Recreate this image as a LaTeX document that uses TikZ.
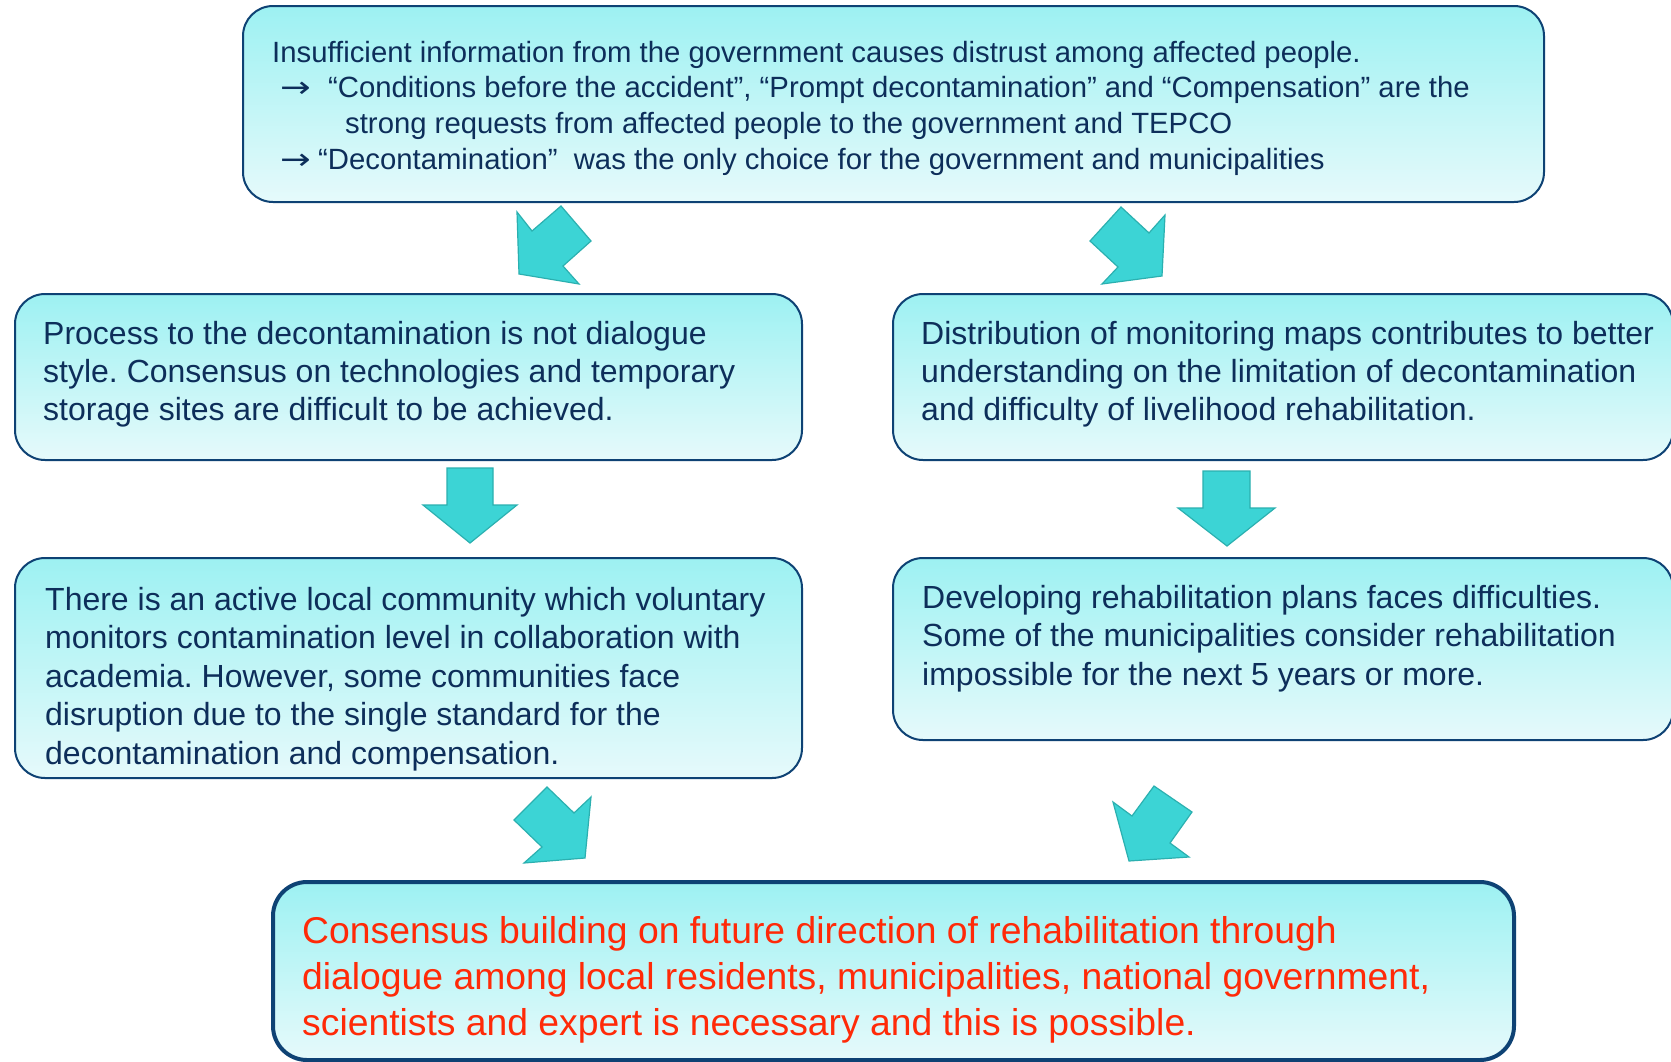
\documentclass[tikz,border=0pt]{standalone}
\usepackage{fontspec}
\usepackage{graphicx}
\setmainfont{Liberation Sans}
\newfontfamily\arrowfont{DejaVu Sans}
\frenchspacing
\definecolor{boxedge}{HTML}{0E4274}
\definecolor{boxtop}{HTML}{9DF1F2}
\definecolor{boxbot}{HTML}{E6FAFB}
\definecolor{txt}{HTML}{0D2E5A}
\definecolor{redtxt}{HTML}{FF2A08}
\definecolor{arrfill}{HTML}{3CD4D5}
\definecolor{arredge}{HTML}{2BB0B0}
\newcommand{\myarrow}{{\arrowfont\scalebox{1.25}[1]{→}}}
\tikzset{
  box/.style={draw=boxedge, line width=2pt, rounded corners=30pt, top color=boxtop, bottom color=boxbot, inner sep=0pt},
  bigbox/.style={box, line width=4pt, rounded corners=34pt},
  txtnode/.style={anchor=base west, align=left, inner sep=0pt, text=txt},
  toptext/.style={txtnode, font=\fontsize{29.3}{35.5}\selectfont},
  midtext/.style={txtnode, font=\fontsize{32}{38}\selectfont},
  blockarrow/.style={fill=arrfill, draw=arredge, line width=1.2pt, line join=miter}
}
\begin{document}
\begin{tikzpicture}[x=1pt,y=-1pt]
\useasboundingbox (0,0) rectangle (1671,1061);
\fill[white] (0,0) rectangle (1671,1061);
% boxes
\node[box, minimum width=1301pt, minimum height=196pt] (top) at (893.5,104) {};
\node[box, minimum width=787pt, minimum height=166pt] (ml) at (408.5,377) {};
\node[box, minimum width=780pt, minimum height=166pt] (mr) at (1283,377) {};
\node[box, minimum width=787pt, minimum height=220pt] (rl) at (408.5,668) {};
\node[box, minimum width=780pt, minimum height=182pt] (rr) at (1283,649) {};
\node[bigbox, minimum width=1241pt, minimum height=178pt] (bot) at (893.5,971) {};
% texts (multi-line nodes are anchored at the baseline of their last line)
\node[toptext] (t1) at (272,62) {Insufficient information from the government causes distrust among affected people.};
\node[toptext] (t2a) at (280,97) {\myarrow};
\node[toptext] (t2) at (328,97) {“Conditions before the accident”, “Prompt decontamination” and “Compensation” are the};
\node[toptext] (t3) at (345,133) {strong requests from affected people to the government and TEPCO};
\node[toptext] (t4a) at (280,169) {\myarrow};
\node[toptext] (t4) at (318,169) {“Decontamination”\ \ was the only choice for the government and municipalities};
\node[midtext] (tml) at (43,420) {Process to the decontamination is not dialogue\\style. Consensus on technologies and temporary\\storage sites are difficult to be achieved.};
\node[midtext] (tmr) at (921,420) {Distribution of monitoring maps contributes to better\\understanding on the limitation of decontamination\\and difficulty of livelihood rehabilitation.};
\node[midtext, font=\fontsize{32}{38.5}\selectfont] (trl) at (45,764) {There is an active local community which voluntary\\monitors contamination level in collaboration with\\academia. However, some communities face\\disruption due to the single standard for the\\decontamination and compensation.};
\node[midtext, font=\fontsize{32}{38.5}\selectfont] (trr) at (922,685) {Developing rehabilitation plans faces difficulties.\\Some of the municipalities consider rehabilitation\\impossible for the next 5 years or more.};
\node[txtnode, text=redtxt, font=\fontsize{37.3}{46}\selectfont] (tb) at (302,1035) {Consensus building on future direction of rehabilitation through\\dialogue among local residents, municipalities, national government,\\scientists and expert is necessary and this is possible.};
% block arrows
\draw[blockarrow] (517,212) -- (532,231) -- (561,206) -- (591,241) -- (563,266) -- (579,284) -- (519,274) -- cycle;
\draw[blockarrow] (1121,207) -- (1149,233) -- (1165,215) -- (1162,276) -- (1102,284) -- (1118,267) -- (1090,241) -- cycle;
\draw[blockarrow] (447,468) -- (493,468) -- (493,505) -- (517,505) -- (470,543) -- (423,505) -- (447,505) -- cycle;
\draw[blockarrow] (1203,471) -- (1250,471) -- (1250,508) -- (1275,508) -- (1227,546) -- (1178,508) -- (1203,508) -- cycle;
\draw[blockarrow] (547,787) -- (574,813) -- (591,797) -- (585,858) -- (524,863) -- (542,847) -- (514,820) -- cycle;
\draw[blockarrow] (1113,802) -- (1132,816) -- (1154,786) -- (1192,812) -- (1170,843) -- (1189,857) -- (1129,861) -- cycle;
\end{tikzpicture}
\end{document}
